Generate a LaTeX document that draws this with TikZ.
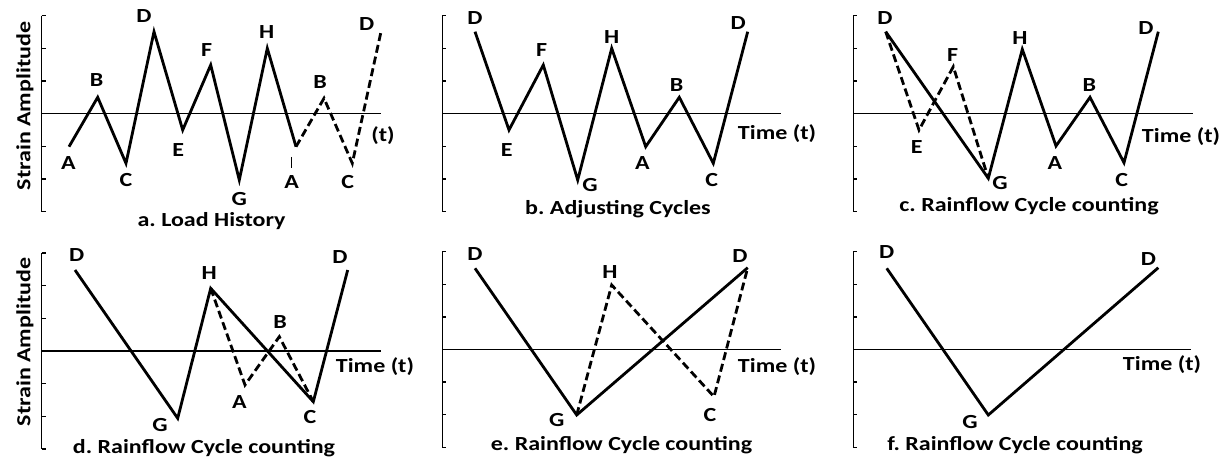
\documentclass[tikz,border=0pt]{standalone}
\usepackage{fontspec}
\setmainfont{Carlito}[FakeStretch=1.2]
\frenchspacing
\newcommand{\panelaxes}[4]{%
  \draw[ax] (#1,#2) -- (#1,#3);
  \foreach \k in {0,...,6} \draw[ax] (#1,{#2+(#3-#2)*\k/6}) -- ++(4,0);
  \draw[ax] (#1,{(#2+#3)/2}) -- (#4,{(#2+#3)/2});
}
\begin{document}
\begin{tikzpicture}[x=0.75pt,y=-0.75pt,
  lbl/.style={font=\fontsize{15}{18}\selectfont\bfseries, inner sep=0pt},
  ttl/.style={lbl, anchor=base},
  sig/.style={line width=2.1pt, line join=miter},
  dsig/.style={sig, dash pattern=on 6pt off 3pt},
  ax/.style={line width=1.15pt}]
\useasboundingbox[fill=white] (0,0) rectangle (1230,459);

% ---------- panel a ----------
\panelaxes{41.7}{15.7}{211.7}{381}
\node[lbl, rotate=90] (ya) at (25,106) {Strain Amplitude};
\coordinate (aA) at (69,146.7);
\coordinate (aB) at (97.7,97.3);
\coordinate (aC) at (126,163.3);
\coordinate (aD) at (154,31.7);
\coordinate (aE) at (182.7,130);
\coordinate (aF) at (210.7,65);
\coordinate (aG) at (239.3,180);
\coordinate (aH) at (267.3,48.3);
\coordinate (aA2) at (296,146.7);
\coordinate (aB2) at (324,98.3);
\coordinate (aC2) at (352.3,163.3);
\coordinate (aD2) at (381,31.7);
\draw[sig] (aA) -- (aB) -- (aC) -- (aD) -- (aE) -- (aF) -- (aG) -- (aH) -- (aA2);
\draw[dsig] (aA2) -- (aB2) -- (aC2) -- (aD2);
\node[lbl] (laA) at (68.3,162.7) {A};
\node[lbl] (laB) at (96.7,80) {B};
\node[lbl] (laC) at (126,180) {C};
\node[lbl] (laD) at (144,16) {D};
\node[lbl] (laE) at (178.3,150) {E};
\node[lbl] (laF) at (206.7,50) {F};
\node[lbl] (laG) at (239.3,199.3) {G};
\node[lbl] (laH) at (266.7,32.3) {H};
\coordinate (amk1) at (291.7,157);
\coordinate (amk2) at (291.7,168);
\draw[line width=0.9pt] (amk1) -- (amk2);
\node[lbl] (laA2) at (291.7,181.7) {A};
\node[lbl] (laB2) at (320,81.7) {B};
\node[lbl] (laC2) at (347.7,181.7) {C};
\node[lbl] (laD2) at (366.7,24) {D};
\node[lbl] (lat) at (383,136) {(t)};
\node[ttl] (ta) at (211.5,226.7) {a. Load History};

% ---------- panel b ----------
\panelaxes{442.3}{15.7}{211.7}{781}
\coordinate (bD) at (475,31.7);
\coordinate (bE) at (509,130);
\coordinate (bF) at (543.3,65);
\coordinate (bG) at (577.7,180);
\coordinate (bH) at (611.7,48.3);
\coordinate (bA) at (645.7,146.7);
\coordinate (bB) at (679.3,97.3);
\coordinate (bC) at (713.3,163.3);
\coordinate (bD2) at (747.7,31.7);
\draw[sig] (bD) -- (bE) -- (bF) -- (bG) -- (bH) -- (bA) -- (bB) -- (bC) -- (bD2);
\node[lbl] (lbD) at (475,18.3) {D};
\node[lbl] (lbE) at (506.7,150) {E};
\node[lbl] (lbF) at (541.7,50) {F};
\node[lbl] (lbG) at (590,185) {G};
\node[lbl] (lbH) at (611.7,36.7) {H};
\node[lbl] (lbA) at (642.3,163.3) {A};
\node[lbl] (lbB) at (676.7,85) {B};
\node[lbl] (lbC) at (711.7,180) {C};
\node[lbl] (lbD2) at (738.3,22.7) {D};
\node[lbl] (lbt) at (777,133.3) {Time (t)};
\node[ttl] (tb) at (618,215) {b. Adjusting Cycles};

% ---------- panel c ----------
\panelaxes{853.3}{15.7}{211.7}{1192.7}
\coordinate (cD) at (885.7,31.7);
\coordinate (cE) at (919,130);
\coordinate (cF) at (953.3,66.7);
\coordinate (cG) at (988.3,178.3);
\coordinate (cH) at (1022.3,49.3);
\coordinate (cA) at (1056,146);
\coordinate (cB) at (1090,97.3);
\coordinate (cC) at (1124,162.7);
\coordinate (cD2) at (1158.3,31.7);
\draw[dsig] (cD) -- (cE) -- (cF) -- (cG);
\draw[sig] (cD) -- (cG) -- (cH) -- (cA) -- (cB) -- (cC) -- (cD2);
\node[lbl] (lcD) at (885,18.3) {D};
\node[lbl] (lcE) at (916.7,146.7) {E};
\node[lbl] (lcF) at (952.7,55) {F};
\node[lbl] (lcG) at (1000,183.3) {G};
\node[lbl] (lcH) at (1020,38.3) {H};
\node[lbl] (lcA) at (1055,163.3) {A};
\node[lbl] (lcB) at (1089.3,85) {B};
\node[lbl] (lcC) at (1121.7,180) {C};
\node[lbl] (lcD2) at (1146,28.3) {D};
\node[lbl] (lct) at (1181,136.7) {Time (t)};
\node[ttl] (tc) at (1029,211.7) {c. Rainflow Cycle counting};

% ---------- panel d ----------
\panelaxes{41.7}{253}{449}{381}
\node[lbl, rotate=90] (yd) at (25,342) {Strain Amplitude};
\coordinate (dD) at (75,270);
\coordinate (dG) at (177.7,418.3);
\coordinate (dH) at (210.7,288.3);
\coordinate (dA) at (245,385);
\coordinate (dB) at (279.3,336.7);
\coordinate (dC) at (313.3,401.7);
\coordinate (dD2) at (347.7,270);
\draw[dsig] (dH) -- (dA) -- (dB) -- (dC);
\draw[sig] (dD) -- (dG) -- (dH) -- (dC) -- (dD2);
\node[lbl] (ldD) at (76.7,255) {D};
\node[lbl] (ldH) at (209.3,273.3) {H};
\node[lbl] (ldB) at (280,321.7) {B};
\node[lbl] (ldA) at (239.3,401.7) {A};
\node[lbl] (ldG) at (160,425) {G};
\node[lbl] (ldC) at (310,416.7) {C};
\node[lbl] (ldD2) at (340,256.7) {D};
\node[lbl] (ldt) at (375,366.7) {Time (t)};
\node[ttl] (td) at (204,453.3) {d. Rainflow Cycle counting};

% ---------- panel e ----------
\panelaxes{442.3}{251.7}{447.3}{781}
\coordinate (eD) at (475,268.3);
\coordinate (eG) at (576.7,415);
\coordinate (eH) at (611.7,285);
\coordinate (eC) at (714,396.7);
\coordinate (eD2) at (747.7,267.7);
\draw[dsig] (eG) -- (eH) -- (eC) -- (eD2);
\draw[sig] (eD) -- (eG) -- (eD2);
\node[lbl] (leD) at (475,254) {D};
\node[lbl] (leH) at (610,271.7) {H};
\node[lbl] (leD2) at (740,256) {D};
\node[lbl] (leG) at (556.7,420) {G};
\node[lbl] (leC) at (710,415) {C};
\node[lbl] (let) at (777,366.7) {Time (t)};
\node[ttl] (te) at (621.5,450) {e. Rainflow Cycle counting};

% ---------- panel f ----------
\panelaxes{853.3}{251.7}{447.3}{1191}
\coordinate (fD) at (886.7,268.3);
\coordinate (fG) at (988.3,415);
\coordinate (fD2) at (1158.3,267.7);
\draw[sig] (fD) -- (fG) -- (fD2);
\node[lbl] (lfD) at (886.7,251.7) {D};
\node[lbl] (lfD2) at (1148.3,259.3) {D};
\node[lbl] (lfG) at (970,421.7) {G};
\node[lbl] (lft) at (1162,365) {Time (t)};
\node[ttl] (tf) at (1015,450) {f. Rainflow Cycle counting};
\end{tikzpicture}
\end{document}
